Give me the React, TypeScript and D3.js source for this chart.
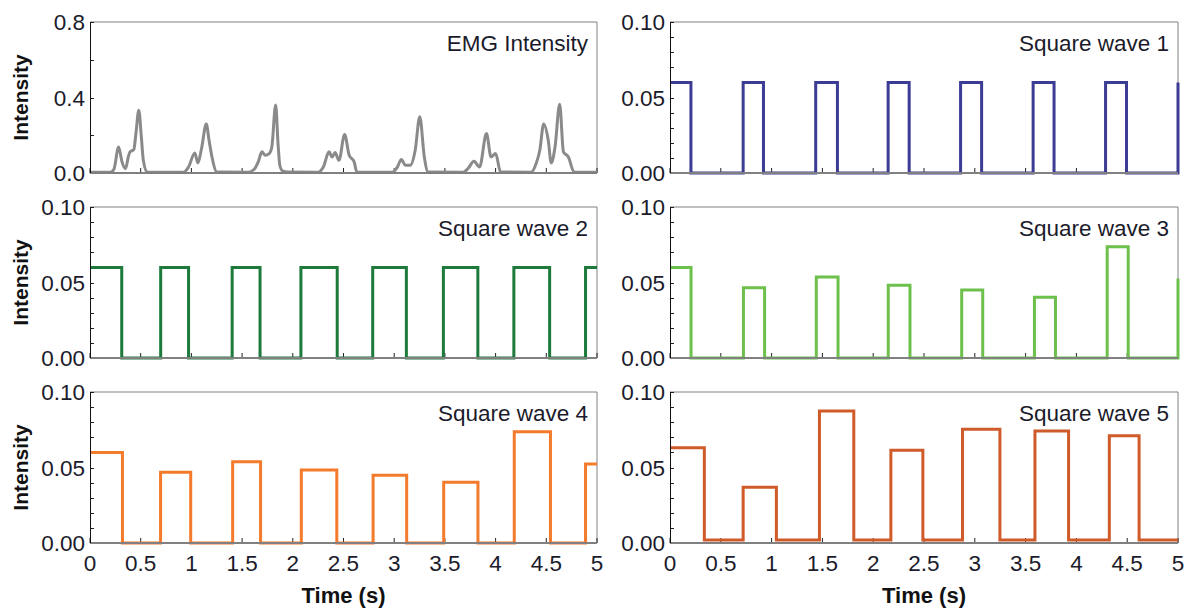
import { useEffect, useRef } from 'react'
import * as d3 from 'd3'

// EMG envelope (time in s, intensity)
const emgTime = [0, 0.2, 0.236, 0.282, 0.315, 0.35, 0.38, 0.395, 0.432, 0.455, 0.481, 0.505, 0.526, 0.564, 0.6,
  0.92, 0.97, 1.034, 1.064, 1.1, 1.147, 1.175, 1.203, 1.252,
  1.56, 1.62, 1.66, 1.695, 1.729, 1.767, 1.793, 1.831, 1.855, 1.872, 1.899, 1.955,
  2.25, 2.3, 2.357, 2.387, 2.417, 2.455, 2.511, 2.556, 2.605, 2.632,
  2.98, 3.03, 3.071, 3.109, 3.158, 3.207, 3.252, 3.297, 3.335,
  3.68, 3.73, 3.786, 3.842, 3.91, 3.955, 4.0, 4.049,
  4.35, 4.4, 4.436, 4.474, 4.519, 4.549, 4.586, 4.632, 4.669, 4.718, 4.774, 5]
const emgValue = [0.004, 0.004, 0.02, 0.138, 0.06, 0.023, 0.09, 0.112, 0.124, 0.22, 0.333, 0.2, 0.067, 0.005, 0.004,
  0.004, 0.03, 0.106, 0.053, 0.13, 0.259, 0.17, 0.085, 0.005,
  0.004, 0.02, 0.06, 0.112, 0.094, 0.103, 0.138, 0.36, 0.15, 0.041, 0.011, 0.005,
  0.004, 0.03, 0.112, 0.085, 0.108, 0.067, 0.204, 0.094, 0.059, 0.005,
  0.004, 0.03, 0.071, 0.041, 0.041, 0.121, 0.298, 0.085, 0.005,
  0.004, 0.025, 0.062, 0.032, 0.209, 0.085, 0.103, 0.005,
  0.004, 0.05, 0.121, 0.259, 0.174, 0.053, 0.138, 0.364, 0.112, 0.085, 0.005, 0.004]

// square waves: switching times (high, low, high, ...) and the pulse heights
const wave1Edges = [0, 0.206, 0.72, 0.92, 1.434, 1.648, 2.147, 2.354, 2.86, 3.067, 3.574, 3.78, 4.287, 4.493, 5.0]
const wave1Highs = [0.06, 0.06, 0.06, 0.06, 0.06, 0.06, 0.06, 0.06]
const wave2Edges = [0, 0.313, 0.697, 0.972, 1.402, 1.677, 2.08, 2.438, 2.788, 3.12, 3.485, 3.825, 4.18, 4.533, 4.887]
const wave2Highs = [0.06, 0.06, 0.06, 0.06, 0.06, 0.06, 0.06, 0.06]
const wave3Edges = [0, 0.207, 0.723, 0.931, 1.44, 1.654, 2.148, 2.362, 2.871, 3.078, 3.587, 3.794, 4.303, 4.51, 5.0]
const wave3Highs = [0.06, 0.0466, 0.0536, 0.0481, 0.045, 0.0402, 0.0736, 0.0527]
const wave4Edges = [0, 0.32, 0.696, 0.993, 1.407, 1.682, 2.084, 2.434, 2.792, 3.123, 3.488, 3.826, 4.184, 4.541, 4.887]
const wave4Highs = [0.06, 0.0468, 0.0538, 0.0484, 0.0448, 0.0402, 0.0736, 0.0523]
const wave5Edges = [0, 0.338, 0.72, 1.047, 1.471, 1.809, 2.174, 2.489, 2.879, 3.247, 3.592, 3.923, 4.324, 4.617]
const wave5Highs = [0.063, 0.037, 0.0874, 0.0614, 0.0754, 0.0741, 0.071]
const wave5Low = 0.002

const xTicks = [0, 0.5, 1, 1.5, 2, 2.5, 3, 3.5, 4, 4.5, 5]
const emgYLabels = [0, 0.4, 0.8]
const waveYLabels = [0, 0.05, 0.1]

const FONT = '"Liberation Sans", Arial, sans-serif'

function stepPoints(edges: number[], highs: number[], low = 0) {
  const pts = edges.map((t, i) => ({ t, v: i % 2 === 0 ? highs[i / 2] : low }))
  pts.push({ t: 5, v: pts[pts.length - 1].v })
  return pts
}

export default function App() {
  const svgRef = useRef<SVGSVGElement>(null)

  useEffect(() => {
    const svg = d3.select(svgRef.current)
    svg.selectAll('*').remove()

    const cols = [[90, 597], [670, 1178]]
    const rows = [22, 207, 392]
    const h = 151

    const panels = [
      { col: 0, row: 0, title: 'EMG Intensity', color: '#8a8a8a', max: 0.8, emg: true,
        pts: emgTime.map((t, i) => ({ t, v: emgValue[i] })) },
      { col: 1, row: 0, title: 'Square wave 1', color: '#3c3c94', max: 0.1, pts: stepPoints(wave1Edges, wave1Highs) },
      { col: 0, row: 1, title: 'Square wave 2', color: '#1d7a3b', max: 0.1, pts: stepPoints(wave2Edges, wave2Highs) },
      { col: 1, row: 1, title: 'Square wave 3', color: '#6dc04b', max: 0.1, pts: stepPoints(wave3Edges, wave3Highs) },
      { col: 0, row: 2, title: 'Square wave 4', color: '#f47a2c', max: 0.1, pts: stepPoints(wave4Edges, wave4Highs) },
      { col: 1, row: 2, title: 'Square wave 5', color: '#cf5b2a', max: 0.1, pts: stepPoints(wave5Edges, wave5Highs, wave5Low) },
    ]

    panels.forEach((p) => {
      const [x0, x1] = cols[p.col]
      const top = rows[p.row]
      const bottom = top + h
      const x = d3.scaleLinear().domain([0, 5]).range([x0, x1])
      const y = d3.scaleLinear().domain([0, p.max]).range([bottom, top])
      const g = svg.append('g')

      // frame: grey top/right, black left, grey bottom
      g.append('line').attr('x1', x0).attr('x2', x1).attr('y1', top).attr('y2', top)
        .attr('stroke', '#808080').attr('stroke-width', 1)
      g.append('line').attr('x1', x1).attr('x2', x1).attr('y1', top).attr('y2', bottom)
        .attr('stroke', '#808080').attr('stroke-width', 1)

      // y minor ticks
      const yTickVals = p.emg ? d3.range(0, 0.81, 0.2) : d3.range(0, 0.1001, 0.01)
      g.selectAll('.yt').data(yTickVals).join('line')
        .attr('x1', x0).attr('x2', x0 + 4)
        .attr('y1', (d) => Math.round(y(d)) + 0.5).attr('y2', (d) => Math.round(y(d)) + 0.5)
        .attr('stroke', '#222').attr('stroke-width', 1)
      // x ticks
      g.selectAll('.xt').data(xTicks).join('line')
        .attr('x1', (d) => x(d)).attr('x2', (d) => x(d))
        .attr('y1', bottom).attr('y2', bottom - 5)
        .attr('stroke', '#222').attr('stroke-width', 1)

      // the trace
      const line = d3.line<{ t: number; v: number }>()
        .x((d) => x(d.t)).y((d) => y(d.v))
        .curve(p.emg ? d3.curveMonotoneX : d3.curveStepAfter)
      g.append('path').datum(p.pts).attr('d', line)
        .attr('fill', 'none').attr('stroke', p.color).attr('stroke-width', 3)
        .attr('stroke-linejoin', 'miter')

      g.append('line').attr('x1', x0).attr('x2', x1).attr('y1', bottom).attr('y2', bottom)
        .attr('stroke', '#808080').attr('stroke-width', 2)
      g.append('line').attr('x1', x0 + 0.5).attr('x2', x0 + 0.5).attr('y1', top).attr('y2', bottom)
        .attr('stroke', '#111').attr('stroke-width', 1)

      // y labels
      const fmt = p.emg ? d3.format('.1f') : d3.format('.2f')
      g.selectAll('.yl').data(p.emg ? emgYLabels : waveYLabels).join('text')
        .attr('x', x0 - 5).attr('y', (d) => y(d)).attr('dy', '0.36em')
        .attr('text-anchor', 'end')
        .style('font-family', FONT).style('font-size', '22.5px').style('fill', '#1b1b2b')
        .text((d) => fmt(d))

      if (p.row === 2) {
        g.selectAll('.xl').data(xTicks).join('text')
          .attr('x', (d) => x(d)).attr('y', bottom + 28)
          .attr('text-anchor', 'middle')
          .style('font-family', FONT).style('font-size', '22.5px').style('fill', '#1b1b2b')
          .text((d) => d3.format('~g')(d))
        g.append('text').attr('x', (x0 + x1) / 2).attr('y', bottom + 60)
          .attr('text-anchor', 'middle')
          .style('font-family', FONT).style('font-size', '22px').style('font-weight', 'bold').style('fill', '#111')
          .text('Time (s)')
      }

      if (p.col === 0) {
        g.append('text')
          .attr('transform', `translate(28,${(top + bottom) / 2}) rotate(-90)`)
          .attr('text-anchor', 'middle')
          .style('font-family', FONT).style('font-size', '21px').style('font-weight', 'bold').style('fill', '#111')
          .text('Intensity')
      }

      g.append('text').attr('x', x1 - 9).attr('y', top + 29)
        .attr('text-anchor', 'end')
        .style('font-family', FONT).style('font-size', '22.5px').style('fill', '#1b1b2b')
        .text(p.title)
    })
  }, [])

  return (
    <svg ref={svgRef} width={1188} height={611}
      style={{ position: 'absolute', left: 0, top: 0, background: '#fff' }} />
  )
}
